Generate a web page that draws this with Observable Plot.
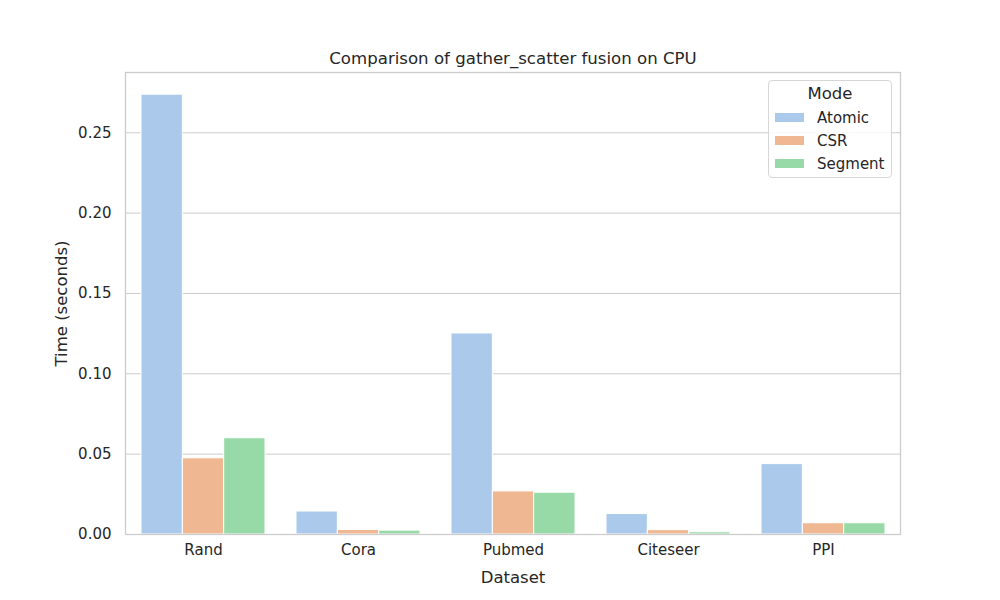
<!DOCTYPE html>
<html>
<head>
<meta charset="utf-8">
<script src="https://cdn.jsdelivr.net/npm/d3@7"></script>
<script src="https://cdn.jsdelivr.net/npm/@observablehq/plot@0.6"></script>
<style>
  html, body { margin: 0; padding: 0; background: #fff; }
  #wrap { position: relative; width: 1000px; height: 600px; font-family: "DejaVu Sans", sans-serif; color: #262626; }
  #legend { position: absolute; left: 768px; top: 80px; width: 124px; height: 98px; border: 1px solid #d6d6d6; border-radius: 4px; background: rgba(255,255,255,0.85); box-sizing: border-box; }
  #legend .title { text-align: center; font-size: 16.5px; margin-top: 3px; height: 22px; }
  #legend .row { display: flex; align-items: center; height: 23px; font-size: 15px; }
  #legend .sw { width: 29px; height: 9px; margin-left: 6px; margin-right: 13px; }
</style>
</head>
<body>
<div id="wrap"></div>
<script>
const datasets = ["Rand", "Cora", "Pubmed", "Citeseer", "PPI"];
const modes = ["Atomic", "CSR", "Segment"];
const atomic = [0.2737, 0.0143, 0.1251, 0.0127, 0.0438];
const csr = [0.0474, 0.0028, 0.0268, 0.0027, 0.0070];
const segment = [0.0599, 0.0024, 0.0260, 0.0014, 0.0070];
const yTicks = [0, 0.05, 0.10, 0.15, 0.20, 0.25];
const colors = ["#abc9ea", "#efb792", "#98daa7"];
const titleText = "Comparison of gather_scatter fusion on CPU";

const series = [atomic, csr, segment];
const rows = series.map((vals, i) => datasets.map((d, j) => ({dataset: d, mode: modes[i], value: vals[j]})));

const gray = "#cccccc";
const barW = 124 / 3;
const insets = [[0, 2 * barW], [barW, barW], [2 * barW, 0]];

const chart = Plot.plot({
  width: 1000,
  height: 600,
  marginTop: 72,
  marginBottom: 66,
  marginLeft: 125,
  marginRight: 100,
  style: {fontFamily: "DejaVu Sans, sans-serif", fontSize: "15px", color: "#262626", background: "#fff"},
  x: {domain: datasets, paddingInner: 0.2, paddingOuter: 0.1, label: null},
  y: {domain: [0, 0.2875], label: null},
  color: {domain: modes, range: colors},
  marks: [
    Plot.ruleY(yTicks, {stroke: gray, strokeWidth: 1}),
    ...rows.map((r, i) => Plot.barY(r, {
      x: "dataset", y: "value", fill: colors[i],
      stroke: "white", strokeWidth: 1,
      insetLeft: insets[i][0], insetRight: insets[i][1]
    })),
    Plot.frame({stroke: gray, strokeWidth: 1.3}),
    Plot.axisY({ticks: yTicks, tickFormat: d3.format(".2f"), tickSize: 0, tickPadding: 14, fontSize: 15}),
    Plot.axisY({ticks: [], label: "Time (seconds)", labelAnchor: "center", labelOffset: 70, labelArrow: false, fontSize: 16.5}),
    Plot.axisX({tickSize: 0, tickPadding: 10, fontSize: 15}),
    Plot.axisX({ticks: [], label: "Dataset", labelAnchor: "center", labelOffset: 48, labelArrow: false, fontSize: 16.5}),
    Plot.text([titleText], {frameAnchor: "top", dy: -20, fontSize: 16.6, fill: "#262626"})
  ]
});

const wrap = document.getElementById("wrap");
wrap.appendChild(chart);

const leg = document.createElement("div");
leg.id = "legend";
leg.innerHTML = `<div class="title">Mode</div>` +
  modes.map((m, i) => `<div class="row"><div class="sw" style="background:${colors[i]}"></div><span>${m}</span></div>`).join("");
wrap.appendChild(leg);
</script>
</body>
</html>
